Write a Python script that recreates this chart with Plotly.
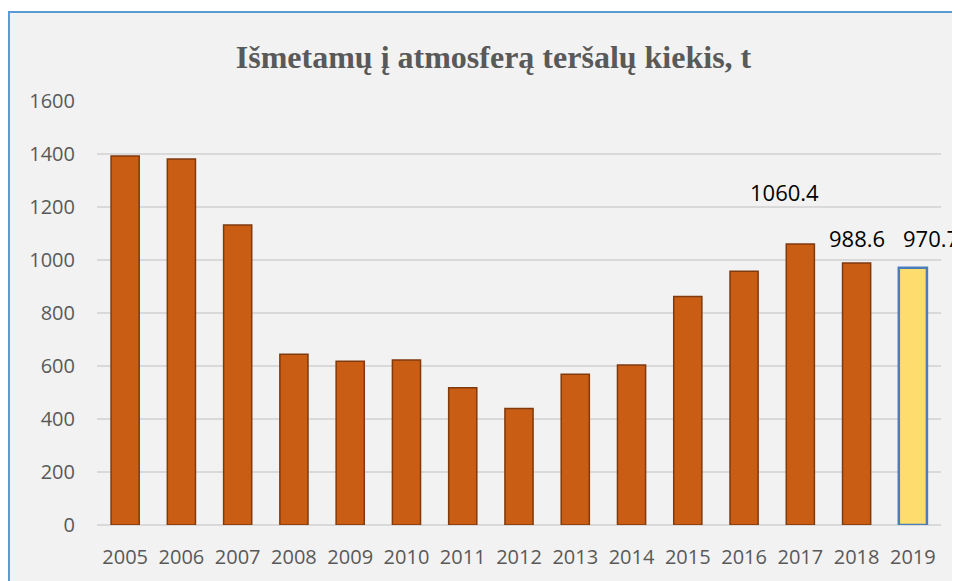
import plotly.graph_objects as go

# Duomenys
metai = ['2005', '2006', '2007', '2008', '2009', '2010', '2011', '2012',
         '2013', '2014', '2015', '2016', '2017', '2018', '2019']
kiekis = [1392, 1381, 1132, 644, 618, 623, 518, 440,
          569, 604, 862, 958, 1060.4, 988.6, 970.7]
y_ticks = [0, 200, 400, 600, 800, 1000, 1200, 1400, 1600]

# Paskutinių metų stulpelis paryškintas geltonai
spalvos = ['#c95d14'] * (len(metai) - 1) + ['#ffdc6e']
kraštai = ['#7f3a0e'] * (len(metai) - 1) + ['#4a7ebb']
pločiai = [1.5] * (len(metai) - 1) + [2.5]

fig = go.Figure()
fig.add_trace(go.Bar(
    x=metai, y=kiekis,
    marker=dict(color=spalvos, line=dict(color=kraštai, width=pločiai)),
    hoverinfo='x+y',
))

# Reikšmių etiketės tik paskutiniams trims metams
poslinkiai = {'2017': (-16, 52), '2018': (0, 25), '2019': (18, 30)}
for i, (m, v) in enumerate(zip(metai, kiekis)):
    if m in poslinkiai:
        dx, dy = poslinkiai[m]
        fig.add_annotation(x=i, y=v, text=f'{v:.1f}', showarrow=False,
                           xshift=dx, yshift=dy,
                           font=dict(family='Open Sans', size=22, color='black'))

# Diagramos rėmelis
fig.add_shape(type='rect', xref='paper', yref='paper',
              x0=-0.1043, x1=1.05, y0=-0.2, y1=1.21,
              line=dict(color='#5b9bd5', width=2), fillcolor='#f2f2f2',
              layer='below')

fig.update_layout(
    width=952, height=573,
    paper_bgcolor='white', plot_bgcolor='rgba(0,0,0,0)',
    margin=dict(l=89, r=19, t=93, b=56),
    bargap=0.5,
    showlegend=False,
    title=dict(text='<b>Išmetamų į atmosferą teršalų kiekis, t</b>',
               x=0.51, xanchor='center', y=0.9145, yanchor='middle',
               font=dict(family='Liberation Serif', size=32, color='#595959')),
    font=dict(family='Open Sans', size=20, color='#595959'),
)
fig.update_xaxes(type='category', range=[-0.5, len(metai) - 0.5],
                 showgrid=False, showline=False, ticks='',
                 ticklabelstandoff=18, tickfont=dict(size=20))
fig.update_yaxes(range=[0, 1600], tickvals=y_ticks, showgrid=True,
                 gridcolor='#d9d9d9', gridwidth=1.5, zeroline=True,
                 zerolinecolor='#d9d9d9', zerolinewidth=2, ticks='',
                 ticklabelstandoff=21, tickfont=dict(size=20))

fig.write_html('out.html')
